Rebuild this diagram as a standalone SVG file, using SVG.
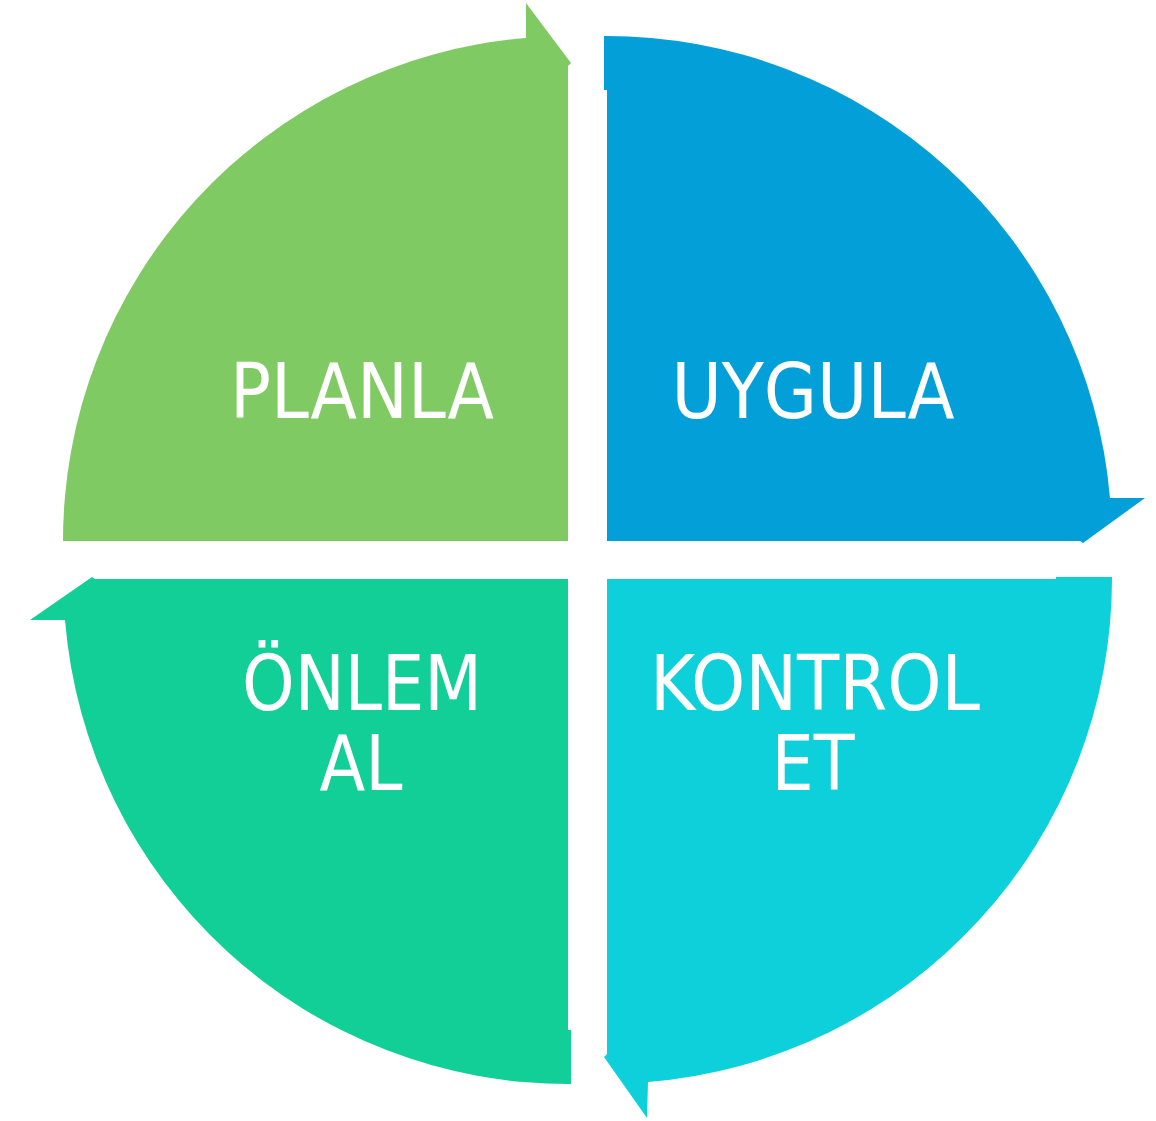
<svg xmlns="http://www.w3.org/2000/svg" width="1156" height="1121" viewBox="0 0 1156 1121">
<style>
.lbl{font-family:"DejaVu Sans Condensed","DejaVu Sans",sans-serif;font-stretch:condensed;font-size:76px;fill:#ffffff;text-anchor:middle}
</style>
<rect width="1156" height="1121" fill="#ffffff"/>
<g id="connectors"></g>
<g id="planla">
<path d="M568 541 L63 541 L63 544 A505 505 0 0 1 526 38 L526 3 L571 63 L568 66 Z" fill="#80CA63"/>
<text class="lbl" x="362" y="418" textLength="264" lengthAdjust="spacingAndGlyphs">PLANLA</text>
</g>
<g id="uygula">
<path d="M607 541 L607 90 L604 90 L604 36 A505 505 0 0 1 1110 498 L1145 498 L1083 543 L1080 541 Z" fill="#039FD9"/>
<text class="lbl" x="813" y="418" textLength="283" lengthAdjust="spacingAndGlyphs">UYGULA</text>
</g>
<g id="kontrol">
<path d="M607 579 L1056 579 L1056 577 L1112 577 A505 505 0 0 1 648 1082 L647 1118 L604 1057 L607 1054 Z" fill="#0DD0DA"/>
<text class="lbl" x="815" y="710" textLength="330" lengthAdjust="spacingAndGlyphs">KONTROL</text>
<text class="lbl" x="813" y="790" textLength="83" lengthAdjust="spacingAndGlyphs">ET</text>
</g>
<g id="onlem">
<path d="M568 579 L568 1030 L571 1030 L571 1084 A505 505 0 0 1 65 620 L30 620 L92 577 L95 579 Z" fill="#12CF97"/>
<text class="lbl" x="362" y="710" textLength="240" lengthAdjust="spacingAndGlyphs">ÖNLEM</text>
<text class="lbl" x="361" y="790" textLength="83" lengthAdjust="spacingAndGlyphs">AL</text>
</g>
</svg>
